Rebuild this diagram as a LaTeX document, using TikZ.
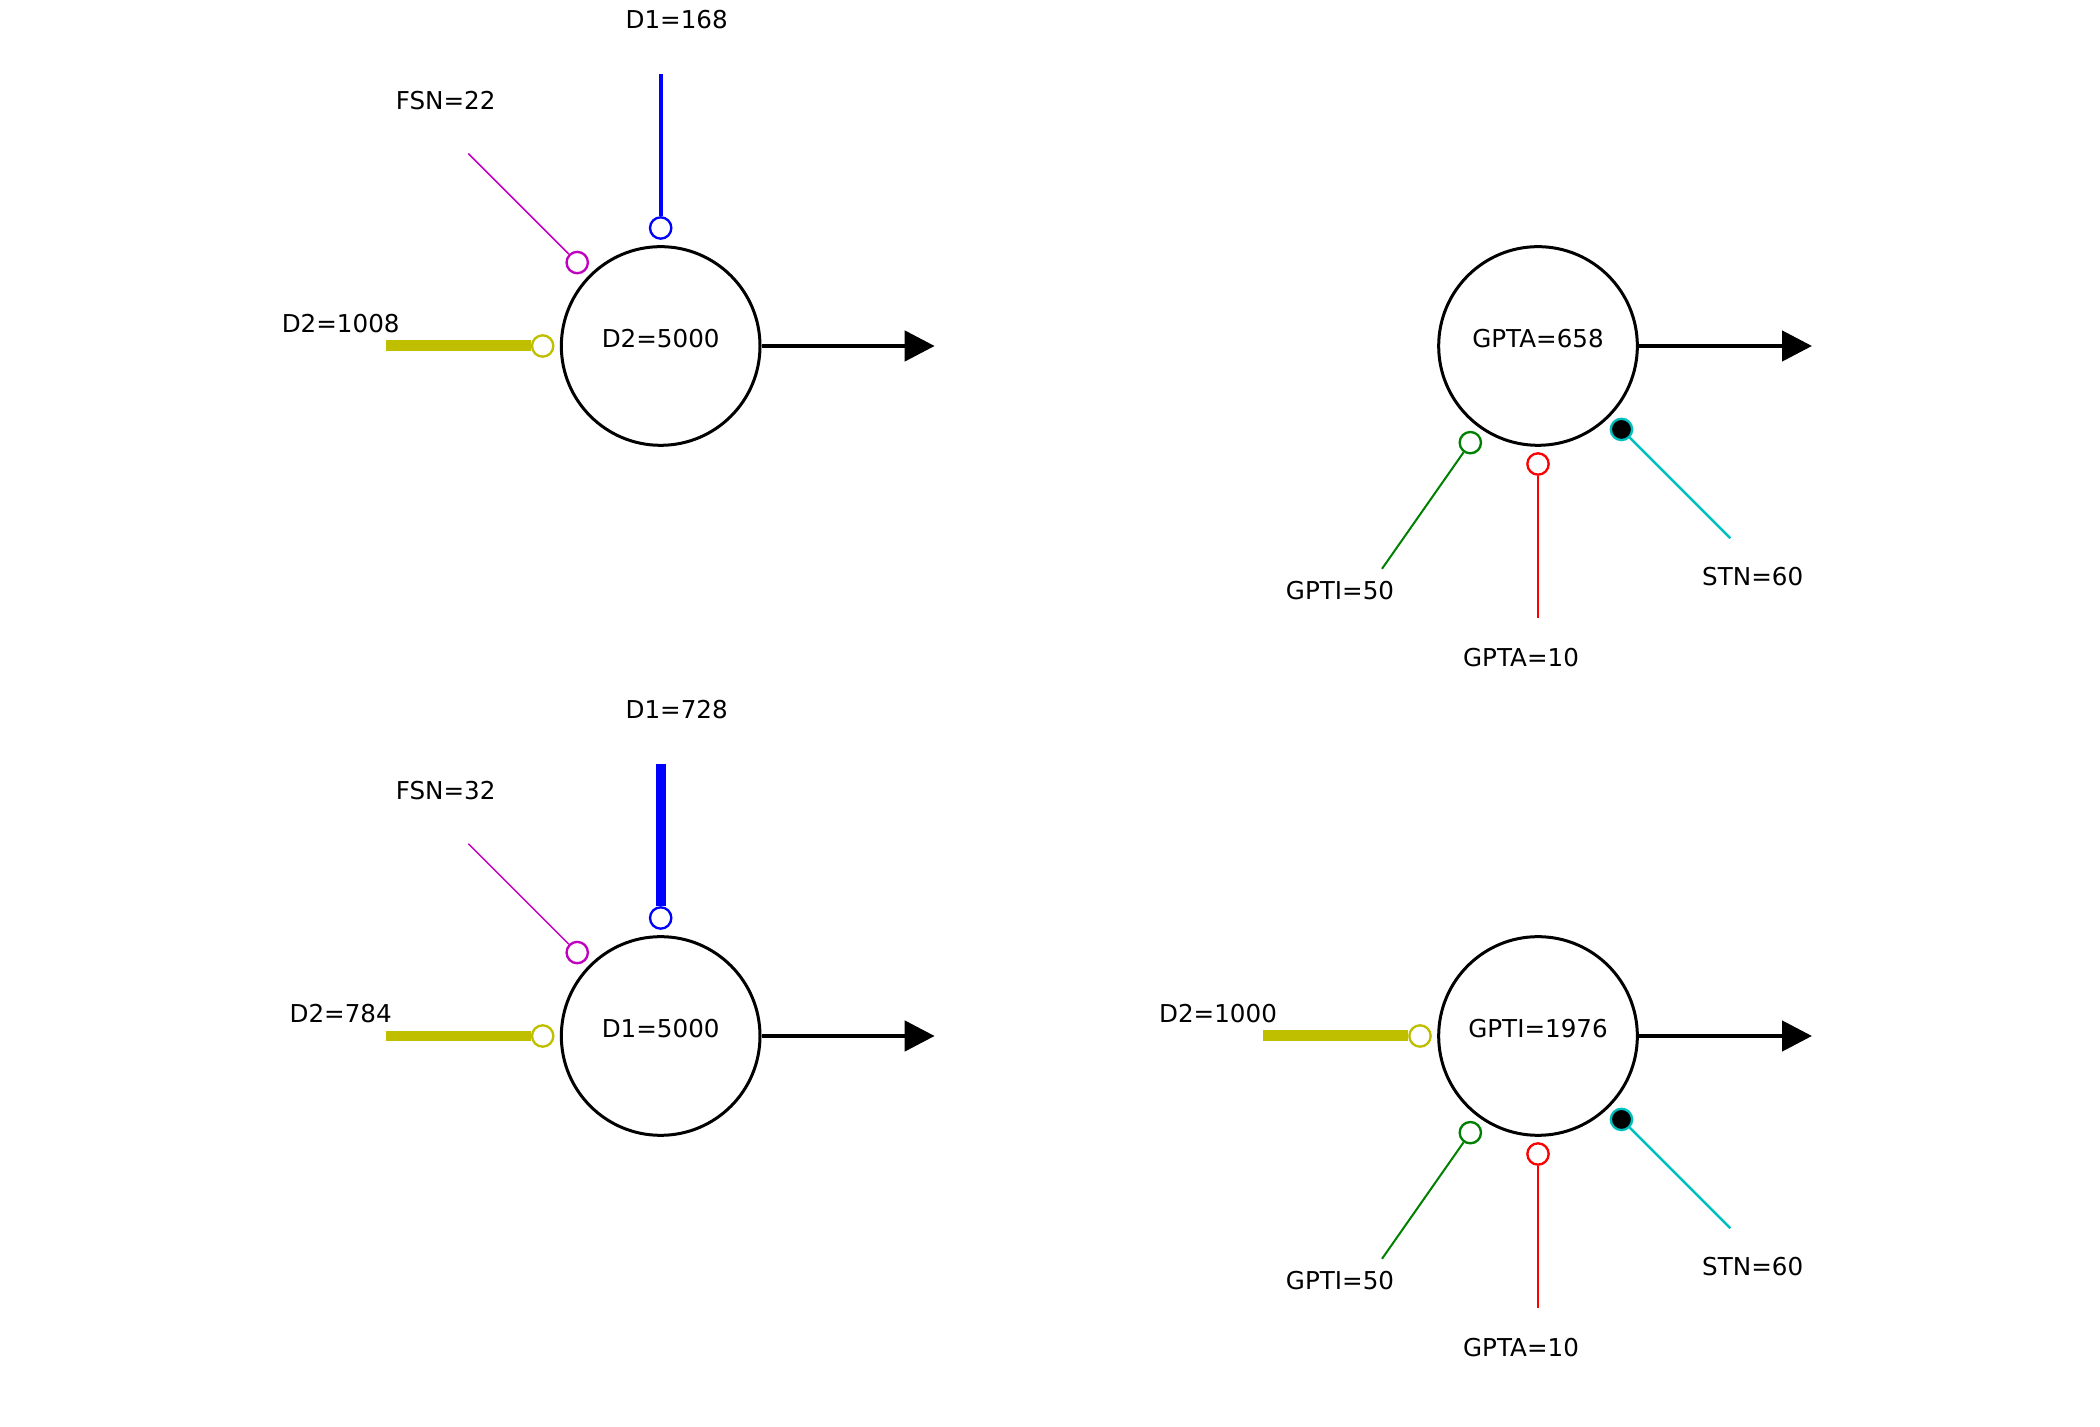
\documentclass[tikz,border=0pt]{standalone}
\usepackage{fontspec}
\setmainfont{DejaVu Sans}
\usetikzlibrary{arrows.meta}
\definecolor{mplm}{rgb}{0.75,0,0.75}
\definecolor{mply}{rgb}{0.75,0.75,0}
\definecolor{mplg}{rgb}{0,0.5,0}
\definecolor{mplc}{rgb}{0,0.75,0.75}

\begin{document}
\begin{tikzpicture}[font=\fontsize{10.5}{12.6}\selectfont,
		tank/.style={circle, draw, line width=0.045cm, minimum size=2.98cm, inner sep=0pt},
		port/.style={circle, draw, fill=white, line width=0.035cm, minimum size=0.32cm, inner sep=0pt},
		flow/.style={line width=0.07cm, -{Triangle[length=0.45cm,width=0.45cm]}}]
		\useasboundingbox (0,0) rectangle (31.5,21.39);
		% top left
		\begin{scope}[shift={(9.91,16.2)}]
			\node[tank] (tl) at (0,0) {};
			\node (tlt) at (0,0.11) {D2=5000};
			\coordinate (tlo) at (4.11,0);
			\draw[flow] (tl.east) -- (tlo);
			\node[port, draw=blue] (tla) at (90:1.77) {};
			\coordinate (tlae) at (90:4.08);
			\draw[blue, line width=0.065cm] (tla) -- (tlae);
			\node (tlal) at (0.24,4.9) {D1=168};
			\node[port, draw=mplm] (tlb) at (135:1.77) {};
			\coordinate (tlbe) at (135:4.08);
			\draw[mplm, line width=0.0225cm] (tlb) -- (tlbe);
			\node (tlbl) at (-3.225,3.685) {FSN=22};
			\node[port, draw=mply] (tlc) at (180:1.77) {};
			\coordinate (tlce) at (180:4.125);
			\draw[mply, line width=0.165cm] (tlc) -- (tlce);
			\node (tlcl) at (-4.8,0.34) {D2=1008};
		\end{scope}
		% top right
		\begin{scope}[shift={(23.07,16.2)}]
			\node[tank] (tr) at (0,0) {};
			\node (trt) at (0,0.11) {GPTA=658};
			\coordinate (tro) at (4.11,0);
			\draw[flow] (tr.east) -- (tro);
			\node[port, draw=mplg] (tra) at (235:1.77) {};
			\coordinate (trae) at (235:4.08);
			\draw[mplg, line width=0.03cm] (tra) -- (trae);
			\node (tral) at (-2.97,-3.665) {GPTI=50};
			\node[port, draw=red] (trb) at (270:1.77) {};
			\coordinate (trbe) at (270:4.08);
			\draw[red, line width=0.02cm] (trb) -- (trbe);
			\node (trbl) at (-0.255,-4.675) {GPTA=10};
			\node[port, draw=mplc, fill=black] (trc) at (315:1.77) {};
			\coordinate (trce) at (315:4.08);
			\draw[mplc, line width=0.0375cm] (trc) -- (trce);
			\node (trcl) at (3.22,-3.465) {STN=60};
		\end{scope}
		% bottom left
		\begin{scope}[shift={(9.91,5.85)}]
			\node[tank] (bl) at (0,0) {};
			\node (blt) at (0,0.11) {D1=5000};
			\coordinate (blo) at (4.11,0);
			\draw[flow] (bl.east) -- (blo);
			\node[port, draw=blue] (bla) at (90:1.77) {};
			\coordinate (blae) at (90:4.08);
			\draw[blue, line width=0.145cm] (bla) -- (blae);
			\node (blal) at (0.24,4.9) {D1=728};
			\node[port, draw=mplm] (blb) at (135:1.77) {};
			\coordinate (blbe) at (135:4.08);
			\draw[mplm, line width=0.0225cm] (blb) -- (blbe);
			\node (blbl) at (-3.225,3.685) {FSN=32};
			\node[port, draw=mply] (blc) at (180:1.77) {};
			\coordinate (blce) at (180:4.125);
			\draw[mply, line width=0.145cm] (blc) -- (blce);
			\node (blcl) at (-4.8,0.34) {D2=784};
		\end{scope}
		% bottom right
		\begin{scope}[shift={(23.07,5.85)}]
			\node[tank] (br) at (0,0) {};
			\node (brt) at (0,0.11) {GPTI=1976};
			\coordinate (bro) at (4.11,0);
			\draw[flow] (br.east) -- (bro);
			\node[port, draw=mply] (brd) at (180:1.77) {};
			\coordinate (brde) at (180:4.125);
			\draw[mply, line width=0.165cm] (brd) -- (brde);
			\node (brdl) at (-4.8,0.34) {D2=1000};
			\node[port, draw=mplg] (bra) at (235:1.77) {};
			\coordinate (brae) at (235:4.08);
			\draw[mplg, line width=0.03cm] (bra) -- (brae);
			\node (bral) at (-2.97,-3.665) {GPTI=50};
			\node[port, draw=red] (brb) at (270:1.77) {};
			\coordinate (brbe) at (270:4.08);
			\draw[red, line width=0.02cm] (brb) -- (brbe);
			\node (brbl) at (-0.255,-4.675) {GPTA=10};
			\node[port, draw=mplc, fill=black] (brc) at (315:1.77) {};
			\coordinate (brce) at (315:4.08);
			\draw[mplc, line width=0.0375cm] (brc) -- (brce);
			\node (brcl) at (3.22,-3.465) {STN=60};
		\end{scope}
	\end{tikzpicture}
\end{document}
